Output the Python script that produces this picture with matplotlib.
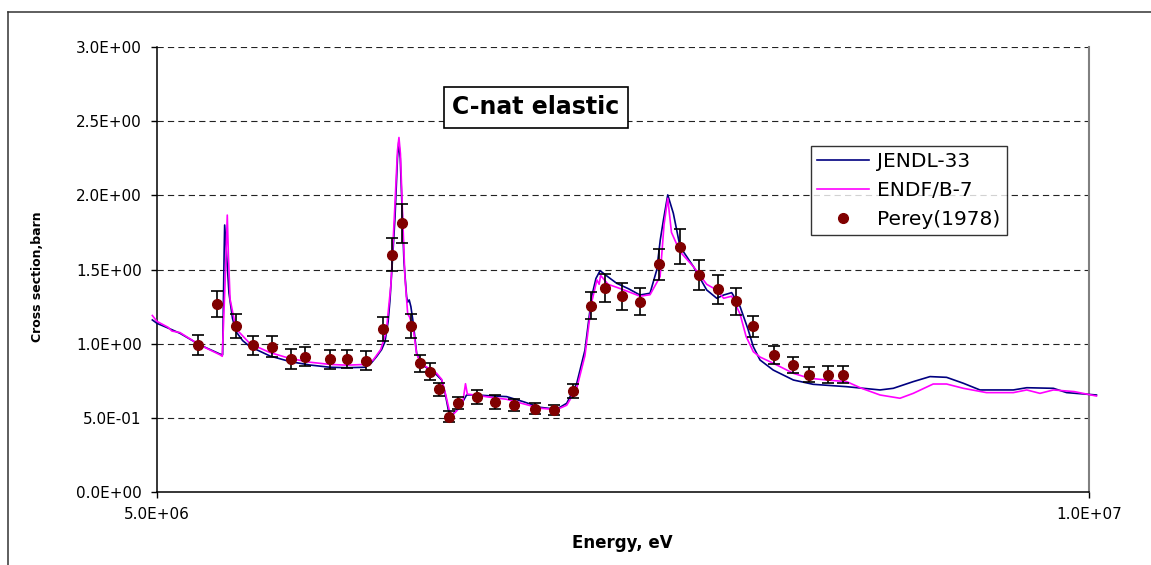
import matplotlib
matplotlib.use("Agg")
import matplotlib.pyplot as plt
from matplotlib.lines import Line2D

plt.rcParams['font.family'] = ['DejaVu Sans']
plt.rcParams['lines.scale_dashes'] = False

# ---------------- data (energies in eV, cross sections in barn) ----------------
jendl_e = [4.975e6, 5.000e6, 5.060e6, 5.123e6, 5.231e6, 5.338e6, 5.352e6, 5.360e6, 5.363e6,
           5.372e6, 5.386e6, 5.405e6, 5.424e6, 5.460e6, 5.499e6, 5.606e6, 5.714e6, 5.821e6,
           5.928e6, 6.020e6, 6.116e6, 6.150e6, 6.178e6, 6.205e6, 6.223e6, 6.240e6, 6.250e6,
           6.265e6, 6.277e6, 6.290e6, 6.297e6, 6.305e6, 6.315e6, 6.325e6, 6.339e6, 6.345e6,
           6.353e6, 6.362e6, 6.375e6, 6.393e6, 6.420e6, 6.465e6, 6.500e6, 6.527e6, 6.545e6,
           6.563e6, 6.581e6, 6.600e6, 6.625e6, 6.661e6, 6.700e6, 6.780e6, 6.876e6, 6.965e6,
           7.054e6, 7.144e6, 7.198e6, 7.252e6, 7.296e6, 7.332e6, 7.355e6, 7.377e6, 7.420e6,
           7.466e6, 7.530e6, 7.591e6, 7.645e6, 7.681e6, 7.700e6, 7.717e6, 7.740e6, 7.770e6,
           7.806e6, 7.878e6, 7.949e6, 8.003e6, 8.040e6, 8.083e6, 8.128e6, 8.170e6, 8.199e6,
           8.235e6, 8.306e6, 8.414e6, 8.520e6, 8.700e6, 8.879e6, 8.950e6, 9.057e6, 9.147e6,
           9.236e6, 9.326e6, 9.415e6, 9.594e6, 9.666e6, 9.809e6, 9.880e6, 10.040e6]
jendl_xs = [1.160, 1.137, 1.105, 1.070, 0.991, 0.930, 0.925, 1.600, 1.800,
            1.630, 1.342, 1.170, 1.081, 1.020, 0.980, 0.917, 0.879, 0.856,
            0.841, 0.838, 0.841, 0.870, 0.913, 0.960, 1.013, 1.150, 1.295,
            1.600, 1.856, 2.250, 2.360, 2.250, 1.900, 1.550, 1.317, 1.280,
            1.295, 1.250, 1.137, 0.935, 0.860, 0.822, 0.790, 0.755, 0.670,
            0.553, 0.519, 0.540, 0.575, 0.654, 0.655, 0.649, 0.643, 0.609,
            0.571, 0.558, 0.598, 0.733, 0.957, 1.317, 1.440, 1.492, 1.450,
            1.407, 1.370, 1.328, 1.340, 1.497, 1.700, 1.834, 2.003, 1.879,
            1.654, 1.519, 1.362, 1.306, 1.328, 1.344, 1.250, 1.100, 0.980,
            0.890, 0.822, 0.755, 0.726, 0.710, 0.688, 0.699, 0.744, 0.778,
            0.773, 0.733, 0.688, 0.688, 0.703, 0.699, 0.670, 0.654]

endf_e = [4.975e6, 5.000e6, 5.060e6, 5.080e6, 5.123e6, 5.231e6, 5.338e6, 5.350e6, 5.365e6,
          5.377e6, 5.383e6, 5.392e6, 5.424e6, 5.499e6, 5.606e6, 5.714e6, 5.821e6, 5.928e6,
          6.020e6, 6.116e6, 6.160e6, 6.200e6, 6.230e6, 6.255e6, 6.275e6, 6.290e6, 6.298e6,
          6.306e6, 6.318e6, 6.330e6, 6.345e6, 6.355e6, 6.375e6, 6.393e6, 6.420e6, 6.465e6,
          6.500e6, 6.527e6, 6.550e6, 6.570e6, 6.585e6, 6.610e6, 6.640e6, 6.655e6, 6.665e6,
          6.700e6, 6.780e6, 6.876e6, 6.965e6, 7.054e6, 7.144e6, 7.198e6, 7.252e6, 7.296e6,
          7.332e6, 7.360e6, 7.372e6, 7.380e6, 7.420e6, 7.466e6, 7.530e6, 7.591e6, 7.645e6,
          7.699e6, 7.720e6, 7.740e6, 7.760e6, 7.806e6, 7.878e6, 7.949e6, 8.003e6, 8.040e6,
          8.083e6, 8.128e6, 8.160e6, 8.199e6, 8.235e6, 8.306e6, 8.414e6, 8.500e6, 8.593e6,
          8.700e6, 8.780e6, 8.879e6, 8.986e6, 9.057e6, 9.164e6, 9.236e6, 9.326e6, 9.450e6,
          9.594e6, 9.666e6, 9.737e6, 9.809e6, 9.920e6, 10.040e6]
endf_xs = [1.190, 1.150, 1.110, 1.085, 1.075, 0.990, 0.925, 0.915, 1.400,
           1.867, 1.600, 1.300, 1.100, 1.000, 0.940, 0.900, 0.875, 0.860,
           0.855, 0.860, 0.890, 0.960, 1.080, 1.400, 1.900, 2.300, 2.390,
           2.280, 1.850, 1.450, 1.200, 1.180, 1.100, 0.930, 0.860, 0.830,
           0.800, 0.760, 0.650, 0.540, 0.520, 0.550, 0.600, 0.730, 0.660,
           0.655, 0.640, 0.625, 0.595, 0.565, 0.555, 0.585, 0.700, 0.920,
           1.280, 1.430, 1.400, 1.460, 1.400, 1.380, 1.350, 1.320, 1.330,
           1.452, 1.800, 1.980, 1.750, 1.620, 1.519, 1.400, 1.362, 1.306,
           1.320, 1.200, 1.050, 0.946, 0.910, 0.868, 0.800, 0.767, 0.755,
           0.744, 0.699, 0.654, 0.632, 0.665, 0.728, 0.728, 0.699, 0.670,
           0.670, 0.688, 0.665, 0.688, 0.677, 0.647]

perey_e = [5.222e6, 5.322e6, 5.424e6, 5.517e6, 5.615e6, 5.717e6, 5.796e6, 5.928e6, 6.018e6,
           6.120e6, 6.211e6, 6.261e6, 6.313e6, 6.361e6, 6.411e6, 6.465e6, 6.515e6, 6.565e6,
           6.615e6, 6.715e6, 6.815e6, 6.917e6, 7.026e6, 7.128e6, 7.230e6, 7.328e6, 7.401e6,
           7.492e6, 7.592e6, 7.693e6, 7.804e6, 7.906e6, 8.008e6, 8.106e6, 8.197e6, 8.310e6,
           8.412e6, 8.500e6, 8.602e6, 8.681e6]
perey_xs = [0.991, 1.267, 1.119, 0.989, 0.980, 0.894, 0.912, 0.894, 0.894,
            0.885, 1.099, 1.600, 1.811, 1.119, 0.868, 0.811, 0.692, 0.508,
            0.598, 0.643, 0.606, 0.587, 0.560, 0.551, 0.681, 1.255, 1.377,
            1.321, 1.283, 1.535, 1.654, 1.461, 1.367, 1.286, 1.117, 0.922,
            0.856, 0.791, 0.791, 0.791]
perey_err = [0.070, 0.088, 0.078, 0.064, 0.069, 0.067, 0.064, 0.064, 0.061,
             0.064, 0.081, 0.110, 0.130, 0.078, 0.056, 0.056, 0.044, 0.037,
             0.041, 0.047, 0.046, 0.041, 0.037, 0.033, 0.047, 0.090, 0.094,
             0.091, 0.090, 0.105, 0.116, 0.100, 0.097, 0.090, 0.071, 0.062,
             0.057, 0.050, 0.056, 0.056]

x_ticks = [5.0e6, 1.0e7]
x_tick_labels = ["5.0E+06", "1.0E+07"]
y_ticks = [0.0, 0.5, 1.0, 1.5, 2.0, 2.5, 3.0]
y_tick_labels = ["0.0E+00", "5.0E-01", "1.0E+00", "1.5E+00", "2.0E+00", "2.5E+00", "3.0E+00"]

# ---------------- figure ----------------
W, H = 1151, 565
fig = plt.figure(figsize=(W / 100, H / 100), dpi=100)
fig.patch.set_facecolor('white')

# outer chart border (partially cropped in reference)
fig.add_artist(Line2D([8 / W, 1.0], [1 - 12 / H, 1 - 12 / H], transform=fig.transFigure,
                      color='#333333', lw=1.1))
fig.add_artist(Line2D([8 / W, 8 / W], [0.0, 1 - 12 / H], transform=fig.transFigure,
                      color='#333333', lw=1.1))

ax = fig.add_axes([157 / W, 1 - 492 / H, (1089 - 157) / W, (492 - 47) / H])
ax.set_xlim(5.0e6, 1.0e7)
ax.set_ylim(0.0, 3.0)

for y in y_ticks[1:]:
    ax.axhline(y, color='#222222', lw=0.8, linestyle=(0, (4.5, 3.0)), zorder=1)

ax.plot(jendl_e, jendl_xs, color='#000080', lw=1.2, label='JENDL-33', zorder=3, clip_on=False)
ax.plot(endf_e, endf_xs, color='#FF00FF', lw=1.2, label='ENDF/B-7', zorder=4, clip_on=False)
ax.errorbar(perey_e, perey_xs, yerr=perey_err, fmt='none', ecolor='black', elinewidth=1.2,
            capsize=4.6, capthick=1.2, zorder=5)
ax.plot(perey_e, perey_xs, linestyle='none', marker='o', markersize=7,
        markerfacecolor='#800000', markeredgecolor='#800000', label='Perey(1978)', zorder=6)

ax.set_xticks(x_ticks)
ax.set_xticklabels(x_tick_labels)
ax.set_yticks(y_ticks)
ax.set_yticklabels(y_tick_labels)
ax.tick_params(axis='y', direction='out', length=4, width=1, pad=7, labelsize=11, colors='black')
ax.tick_params(axis='x', direction='out', length=4, width=1, pad=7, labelsize=11, colors='black')

ax.spines['top'].set_visible(False)
ax.spines['right'].set_color('#808080')
ax.spines['right'].set_linewidth(1.5)
ax.spines['left'].set_linewidth(1.1)
ax.spines['bottom'].set_linewidth(1.1)

fig.text(38 / W, 1 - 277 / H, 'Cross section,barn', rotation=90, ha='center', va='center',
         fontsize=9, fontweight='bold')
fig.text(622 / W, 1 - 543 / H, 'Energy, eV', ha='center', va='center',
         fontsize=12, fontweight='bold')

ax.text((536 - 157) / 932, (492 - 107.5) / 445, 'C-nat elastic', transform=ax.transAxes,
        ha='center', va='center', fontsize=17, fontweight='bold', zorder=7,
        bbox=dict(boxstyle='square,pad=0.35', facecolor='white', edgecolor='black', lw=1.2))

leg = ax.legend(loc='upper left', bbox_to_anchor=((811 - 157) / 932, (492 - 146) / 445),
                fontsize=14.5, frameon=True, fancybox=False, edgecolor='black',
                handlelength=2.6, handletextpad=0.4, labelspacing=0.5, borderpad=0.3,
                borderaxespad=0.0, markerscale=1.0)
leg.get_frame().set_linewidth(1.0)
leg.set_zorder(8)

fig.savefig('out.png', dpi=100, facecolor='white')
